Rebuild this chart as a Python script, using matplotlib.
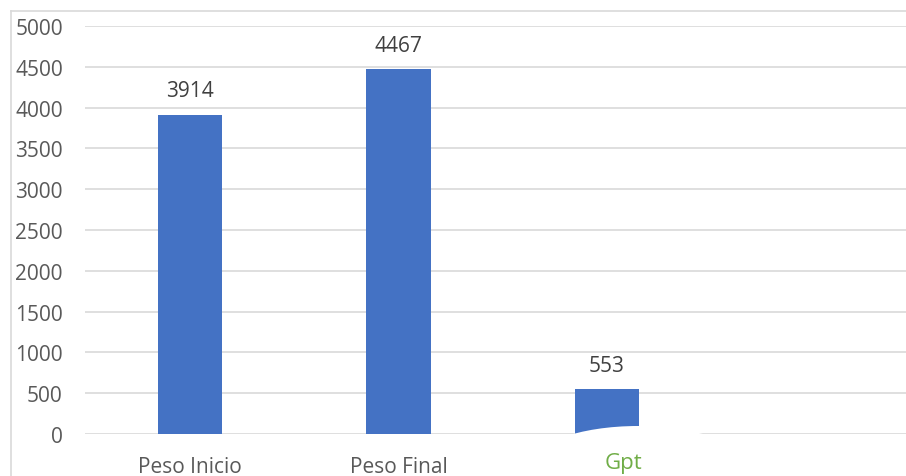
import matplotlib.pyplot as plt
from matplotlib.patches import Ellipse
from matplotlib.lines import Line2D

plt.rcParams['font.family'] = ['Open Sans', 'DejaVu Sans']

categories = ['Peso Inicio', 'Peso Final', 'Gpt']
values = [3914, 4467, 553]
yticks = [0, 500, 1000, 1500, 2000, 2500, 3000, 3500, 4000, 4500, 5000]

W, H = 906, 477
fig = plt.figure(figsize=(W / 100, H / 100), dpi=100)

# plot area in pixels: left 85, right 906, y=0 at 435, y=5000 at 27
ax = fig.add_axes([85 / W, (H - 435) / H, (906 - 85) / W, (435 - 27) / H])

x = list(range(len(categories)))
ax.bar(x, values, width=0.31, color='#4472c4', zorder=2)
for xi, v in zip(x, values):
    ax.annotate(str(v), (xi, v), xytext=(0, 9.5), textcoords='offset points',
                ha='center', va='bottom', fontsize=15, color='#404040')

ax.set_xlim(-0.504, 3.434)
ax.set_ylim(0, 5000)
ax.set_yticks(yticks)
ax.set_yticklabels([str(t) for t in yticks])
ax.yaxis.grid(True, color='#d9d9d9', lw=1.2, zorder=0)
ax.set_axisbelow(True)
for s in ax.spines.values():
    s.set_visible(False)
ax.tick_params(axis='y', length=0, pad=16, labelsize=15, labelcolor='#595959')
ax.tick_params(axis='x', length=0, pad=15.5, labelsize=15, labelcolor='#595959')
ax.set_xticks(x[:2])
ax.set_xticklabels(categories[:2])

# white shape over the lower part of the third bar
blob = Ellipse((638 / W, (H - 467) / H), 216 / W, 80 / H, transform=fig.transFigure,
               facecolor='white', edgecolor='none', zorder=5)
fig.add_artist(blob)

# third category label sits on top of the white shape
fig.text(623 / W, (H - 464) / H, categories[2], ha='center', va='center',
         fontsize=16, color='#70ad47', zorder=6)

# chart frame
fig.add_artist(Line2D([11 / W, 1], [(H - 12) / H] * 2, transform=fig.transFigure,
                      color='#d9d9d9', lw=1.2))
fig.add_artist(Line2D([11 / W] * 2, [0, (H - 12) / H], transform=fig.transFigure,
                      color='#d9d9d9', lw=1.2))

fig.savefig('out.png', dpi=100)
